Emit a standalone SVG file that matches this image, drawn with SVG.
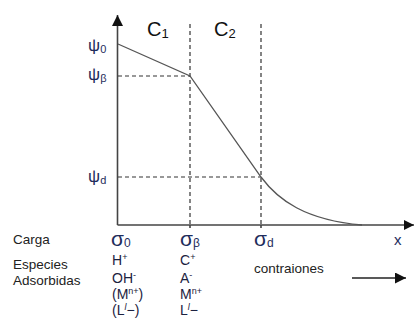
<svg xmlns="http://www.w3.org/2000/svg" width="414" height="334" viewBox="0 0 414 334">
<defs>
<style>
.ax{stroke:#444;stroke-width:1.6;fill:none}
.dash{stroke:#333;stroke-width:1.2;stroke-dasharray:4 3;fill:none}
.curve{stroke:#555;stroke-width:1.3;fill:none}
.sym{font-family:"Liberation Sans",Arial,sans-serif;fill:#1f2d5c}
.lab{font-family:"Liberation Sans",Arial,sans-serif;font-size:13.5px;fill:#222}
.sp{font-family:"Liberation Sans",Arial,sans-serif;font-size:14px;fill:#1c2240}
</style>
<marker id="ah" viewBox="0 0 10 10" refX="10" refY="5" markerWidth="10" markerHeight="10" markerUnits="userSpaceOnUse" orient="auto">
<path d="M0,0 L10,5 L0,10 z" fill="#111"/>
</marker>
<marker id="ah2" viewBox="0 0 10 10" refX="10" refY="5" markerWidth="12" markerHeight="11" markerUnits="userSpaceOnUse" orient="auto">
<path d="M0,0 L10,5 L0,10 z" fill="#111"/>
</marker>
</defs>
<g id="connectors">
<path class="ax" d="M117.5,225 V15" marker-end="url(#ah2)"/>
<path class="ax" d="M117.5,225 H414" marker-end="url(#ah)"/>
<path class="dash" d="M190,24 V225"/>
<path class="dash" d="M261,24 V225"/>
<path class="dash" d="M118,76 H190"/>
<path class="dash" d="M118,177 H261"/>
<path class="curve" d="M118,44 L190,76 L261,177 C278,200 305,220 362,225"/>
<path class="ax" d="M190,225 v3 M261,225 v3"/>
<path class="ax" style="stroke:#222;stroke-width:1.4" d="M352,278 H406" marker-end="url(#ah2)"/>
</g>
<g id="psi-labels">
<text class="sym" x="88" y="51" font-size="17">ψ<tspan font-size="11" dy="2">0</tspan></text>
<text class="sym" x="88" y="80" font-size="17">ψ<tspan font-size="11" dy="2">β</tspan></text>
<text class="sym" x="88" y="182" font-size="17">ψ<tspan font-size="11" dy="2">d</tspan></text>
</g>
<g id="regions">
<text class="sym" x="147" y="36" font-size="20" style="fill:#111">C<tspan font-size="13" dy="2">1</tspan></text>
<text class="sym" x="214" y="36" font-size="20" style="fill:#111">C<tspan font-size="13" dy="2">2</tspan></text>
</g>
<g id="charges">
<text class="lab" x="13" y="244">Carga</text>
<text class="sym" x="111" y="246" font-size="21">σ<tspan font-size="12" dy="1">0</tspan></text>
<text class="sym" x="180" y="246" font-size="21">σ<tspan font-size="12" dy="1">β</tspan></text>
<text class="sym" x="254" y="246" font-size="21">σ<tspan font-size="12" dy="1">d</tspan></text>
<text class="sym" x="394" y="245" font-size="15">x</text>
</g>
<g id="species">
<text class="lab" x="13" y="269">Especies</text>
<text class="lab" x="13" y="285">Adsorbidas</text>
<text class="sp" x="112" y="265">H<tspan font-size="9" dy="-5">+</tspan></text>
<text class="sp" x="112" y="283">OH<tspan font-size="9" dy="-5">-</tspan></text>
<text class="sp" x="112" y="299">(M<tspan font-size="9" dy="-5">n+</tspan><tspan dy="5">)</tspan></text>
<text class="sp" x="112" y="315">(L<tspan font-size="9" dy="-5" font-style="italic">l</tspan><tspan dy="5">−)</tspan></text>
<text class="sp" x="180" y="265">C<tspan font-size="9" dy="-5">+</tspan></text>
<text class="sp" x="180" y="283">A<tspan font-size="9" dy="-5">-</tspan></text>
<text class="sp" x="180" y="299">M<tspan font-size="9" dy="-5">n+</tspan></text>
<text class="sp" x="180" y="315">L<tspan font-size="9" dy="-5" font-style="italic">l</tspan><tspan dy="5">−</tspan></text>
<text class="lab" x="254" y="273">contraiones</text>
</g>
</svg>
